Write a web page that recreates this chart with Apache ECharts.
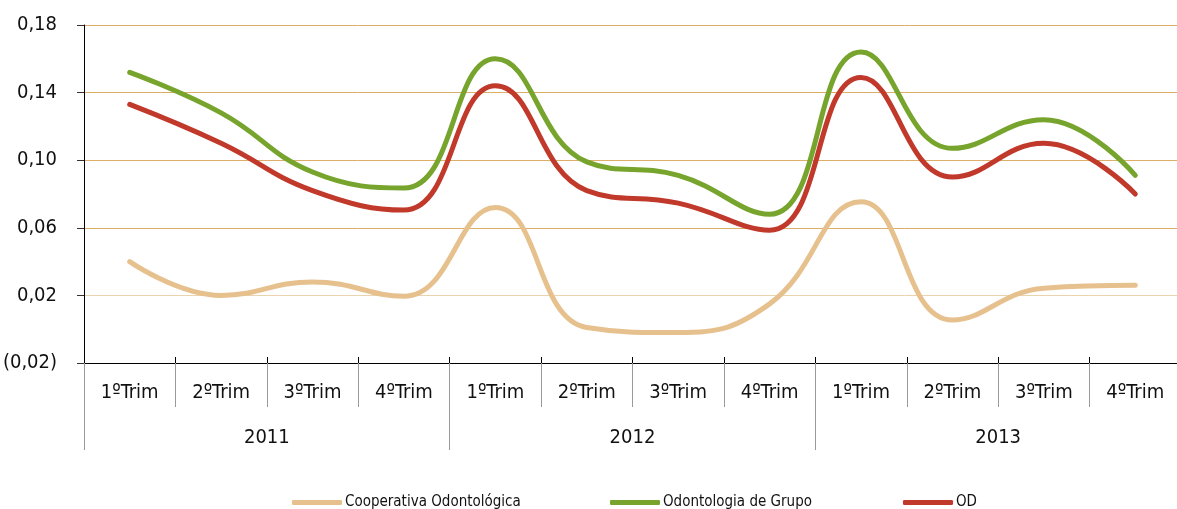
<!DOCTYPE html>
<html>
<head>
<meta charset="utf-8">
<script src="https://cdn.jsdelivr.net/npm/echarts@6/dist/echarts.min.js"></script>
<style>
html,body{margin:0;padding:0;background:#fff;}
#chart{width:1177px;height:509px;}
</style>
</head>
<body>
<div id="chart"></div>
<script>
var quarters = ['1ºTrim','2ºTrim','3ºTrim','4ºTrim','1ºTrim','2ºTrim','3ºTrim','4ºTrim','1ºTrim','2ºTrim','3ºTrim','4ºTrim'];
var years = ['2011','2012','2013'];
var cooperativa = [0.040, 0.020, 0.028, 0.0195, 0.072, 0.001, -0.002, 0.015, 0.0754, 0.0054, 0.0243, 0.026];
var grupo = [0.152, 0.128, 0.093, 0.0835, 0.160, 0.099, 0.091, 0.068, 0.164, 0.107, 0.124, 0.091];
var od = [0.133, 0.110, 0.082, 0.0705, 0.144, 0.082, 0.0746, 0.0586, 0.149, 0.090, 0.110, 0.080];
var seriesNames = ['Cooperativa Odontológica', 'Odontologia de Grupo', 'OD'];

var FONT = "'DejaVu Sans Condensed', 'Liberation Sans', sans-serif";
var chart = echarts.init(document.getElementById('chart'));

function fmt(v) {
  var s = Math.abs(v).toFixed(2).replace('.', ',');
  return v < -1e-9 ? '(' + s + ')' : s;
}

function legendAt(left, name) {
  return {
    left: left, top: 495, padding: 0, data: [name],
    icon: 'roundRect', itemWidth: 50, itemHeight: 5, itemGap: 0,
    textStyle: { fontFamily: FONT, fontSize: 15, color: '#111', padding: [0, 0, 0, -2] },
    selectedMode: false
  };
}

var option = {
  animation: false,
  backgroundColor: '#fff',
  grid: { left: 84, top: 25, right: -4, bottom: 146, containLabel: false, outerBoundsMode: 'none' },
  legend: [legendAt(292, seriesNames[0]), legendAt(610, seriesNames[1]), legendAt(903, seriesNames[2])],
  xAxis: [
    {
      type: 'category', data: quarters, position: 'bottom', boundaryGap: true,
      axisLine: { show: true, onZero: false, lineStyle: { color: '#000', width: 1 } },
      axisTick: { show: true, inside: true, length: 6, lineStyle: { color: '#000' } },
      axisLabel: { margin: 20, fontFamily: FONT, fontSize: 20, color: '#111', interval: 0 },
      splitLine: { show: false }
    },
    {
      type: 'category', data: quarters, position: 'bottom', boundaryGap: true,
      axisLine: { show: false, onZero: false },
      axisTick: { show: true, length: 44, lineStyle: { color: '#9a9a9a' } },
      axisLabel: { show: false },
      splitLine: { show: false }
    },
    {
      type: 'category', data: years, position: 'bottom', boundaryGap: true,
      axisLine: { show: false, onZero: false },
      axisTick: { show: true, length: 87, lineStyle: { color: '#9a9a9a' } },
      axisLabel: { margin: 65, fontFamily: FONT, fontSize: 20, color: '#111', interval: 0 },
      splitLine: { show: false }
    }
  ],
  yAxis: {
    type: 'value', min: -0.02, max: 0.18, interval: 0.04,
    axisLine: { show: true, lineStyle: { color: '#000', width: 1 } },
    axisTick: { show: true, length: 7, lineStyle: { color: '#333' } },
    axisLabel: { margin: 27, fontFamily: FONT, fontSize: 20, color: '#111', formatter: fmt },
    splitLine: { show: true, lineStyle: { color: ['#dcae68', '#ead4ae', '#dcae68', '#dcae68', '#dcae68', '#dcae68'], width: 1 } }
  },
  series: [
    { name: seriesNames[0], type: 'line', xAxisIndex: 0, data: cooperativa, smooth: 0.45, symbol: 'none',
      lineStyle: { color: '#e6c18e', width: 5, cap: 'round' }, itemStyle: { color: '#e6c18e' } },
    { name: seriesNames[1], type: 'line', xAxisIndex: 0, data: grupo, smooth: 0.45, symbol: 'none',
      lineStyle: { color: '#77a42c', width: 5, cap: 'round' }, itemStyle: { color: '#77a42c' } },
    { name: seriesNames[2], type: 'line', xAxisIndex: 0, data: od, smooth: 0.45, symbol: 'none',
      lineStyle: { color: '#c0392a', width: 5, cap: 'round' }, itemStyle: { color: '#c0392a' } }
  ]
};
chart.setOption(option);
</script>
</body>
</html>
